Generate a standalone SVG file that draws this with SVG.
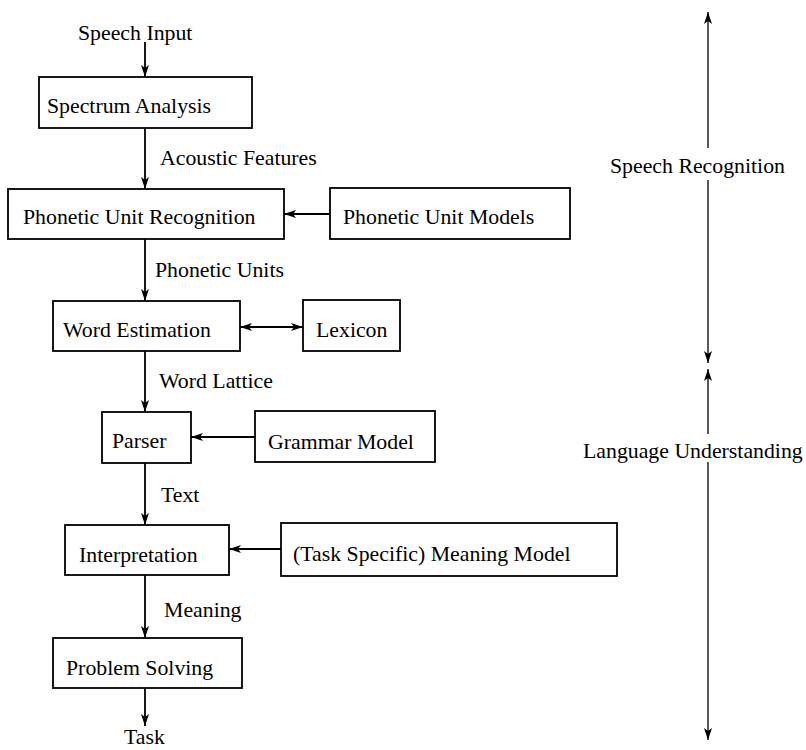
<svg xmlns="http://www.w3.org/2000/svg" width="806" height="750" viewBox="0 0 806 750">
<defs>
<marker id="ah" viewBox="0 0 12 8" refX="12" refY="4" markerWidth="12" markerHeight="8" markerUnits="userSpaceOnUse" orient="auto-start-reverse">
<path d="M0,0 L12,4 L0,8 L3,4 z" fill="#000"/>
</marker>
</defs>
<style>
text{font-family:"Liberation Serif","Times New Roman",serif;font-size:21.8px;fill:#000}
.box{fill:#fff;stroke:#000;stroke-width:1.8}
.c{stroke:#000;stroke-width:1.8;fill:none}
.r{stroke:#000;stroke-width:1.3;fill:none}
</style>
<rect width="806" height="750" fill="#fff"/>
<g id="connectors">
<line class="c" x1="145" y1="42" x2="145" y2="77" marker-end="url(#ah)"/>
<line class="c" x1="145" y1="128" x2="145" y2="189" marker-end="url(#ah)"/>
<line class="c" x1="330" y1="214" x2="284" y2="214" marker-end="url(#ah)"/>
<line class="c" x1="145" y1="239" x2="145" y2="301" marker-end="url(#ah)"/>
<line class="c" x1="240" y1="327" x2="303" y2="327" marker-start="url(#ah)" marker-end="url(#ah)"/>
<line class="c" x1="145" y1="351" x2="145" y2="412" marker-end="url(#ah)"/>
<line class="c" x1="255" y1="437" x2="191" y2="437" marker-end="url(#ah)"/>
<line class="c" x1="145" y1="463" x2="145" y2="525" marker-end="url(#ah)"/>
<line class="c" x1="281" y1="549" x2="229" y2="549" marker-end="url(#ah)"/>
<line class="c" x1="145" y1="575" x2="145" y2="638" marker-end="url(#ah)"/>
<line class="c" x1="145" y1="688" x2="145" y2="726" marker-end="url(#ah)"/>
<line class="r" x1="708" y1="148" x2="708" y2="12" marker-end="url(#ah)"/>
<line class="r" x1="708" y1="180" x2="708" y2="363" marker-end="url(#ah)"/>
<line class="r" x1="708" y1="434" x2="708" y2="369" marker-end="url(#ah)"/>
<line class="r" x1="708" y1="462" x2="708" y2="740" marker-end="url(#ah)"/>
</g>
<g id="speech-input"><text x="78" y="40">Speech Input</text></g>
<g id="spectrum-analysis"><rect class="box" x="39" y="77" width="213" height="51"/><text x="47" y="113">Spectrum Analysis</text></g>
<g id="acoustic-features"><text x="160" y="165">Acoustic Features</text></g>
<g id="phonetic-unit-recognition"><rect class="box" x="8" y="189" width="276" height="50"/><text x="23" y="224">Phonetic Unit Recognition</text></g>
<g id="phonetic-unit-models"><rect class="box" x="330" y="188" width="240" height="51"/><text x="343" y="224">Phonetic Unit Models</text></g>
<g id="phonetic-units"><text x="155" y="277">Phonetic Units</text></g>
<g id="word-estimation"><rect class="box" x="53" y="301" width="187" height="50"/><text x="63" y="337">Word Estimation</text></g>
<g id="lexicon"><rect class="box" x="303" y="300" width="97" height="51"/><text x="316" y="337">Lexicon</text></g>
<g id="word-lattice"><text x="159" y="388">Word Lattice</text></g>
<g id="parser"><rect class="box" x="102" y="412" width="89" height="51"/><text x="112" y="448">Parser</text></g>
<g id="grammar-model"><rect class="box" x="255" y="411" width="180" height="51"/><text x="268" y="449">Grammar Model</text></g>
<g id="text-label"><text x="161" y="502">Text</text></g>
<g id="interpretation"><rect class="box" x="65" y="525" width="164" height="50"/><text x="79" y="562">Interpretation</text></g>
<g id="meaning-model"><rect class="box" x="281" y="523" width="336" height="53"/><text x="293" y="561">(Task Specific) Meaning Model</text></g>
<g id="meaning"><text x="164" y="617">Meaning</text></g>
<g id="problem-solving"><rect class="box" x="53" y="638" width="189" height="50"/><text x="66" y="675">Problem Solving</text></g>
<g id="task"><text x="124" y="744">Task</text></g>
<g id="speech-recognition"><text x="610" y="173">Speech Recognition</text></g>
<g id="language-understanding"><text x="583" y="458">Language Understanding</text></g>
</svg>
